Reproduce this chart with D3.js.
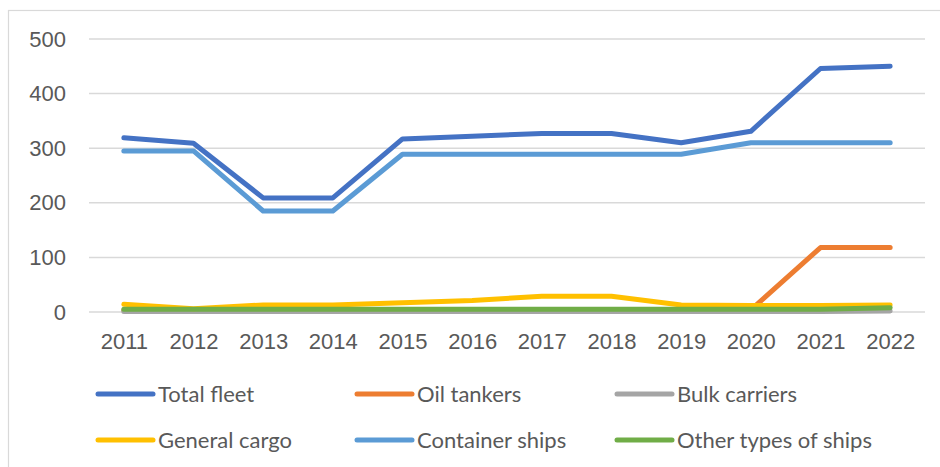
<!DOCTYPE html>
<html>
<head>
<meta charset="utf-8">
<script src="https://cdn.jsdelivr.net/npm/d3@7"></script>
<style>
body{margin:0;background:#fff;}
svg{display:block;}
</style>
</head>
<body>
<svg id="chart" width="940" height="467"></svg>
<script>
// data
const years=["2011","2012","2013","2014","2015","2016","2017","2018","2019","2020","2021","2022"];
const total_fleet=[319,309,209,209,317,322,327,327,310,331,446,450];
const oil_tankers=[3,3,3,3,3,3,3,3,3,4,118,118];
const bulk_carriers=[1,1,1,1,1,1,1,1,1,1,1,2];
const general_cargo=[14,6,13,13,17,21,29,29,13,12,12,13];
const container_ships=[295,295,185,185,289,289,289,289,289,310,310,310];
const other_ships=[5,5,5,5,5,5,5,5,5,5,5,8];
const y_ticks=[0,100,200,300,400,500];

const series=[
    {name:"Total fleet",values:total_fleet,color:"#4472C4"},
    {name:"Oil tankers",values:oil_tankers,color:"#ED7D31"},
    {name:"Bulk carriers",values:bulk_carriers,color:"#A5A5A5"},
    {name:"General cargo",values:general_cargo,color:"#FFC000"},
    {name:"Container ships",values:container_ships,color:"#5B9BD5"},
    {name:"Other types of ships",values:other_ships,color:"#70AD47"}
];

const svg=d3.select("#chart");
const text_color="#595959";
const grid_color="#d9d9d9";

// chart frame
svg.append("rect")
    .attr("x",8.5).attr("y",10.5)
    .attr("width",940).attr("height",470)
    .attr("fill","none")
    .attr("stroke",grid_color)
    .attr("stroke-width",1.2);

const x=d3.scalePoint().domain(years).range([89,925]).padding(0.5);
const y=d3.scaleLinear().domain([0,500]).range([312,39]);

// gridlines
svg.append("g")
    .selectAll("line")
    .data(y_ticks)
    .join("line")
    .attr("x1",89).attr("x2",925)
    .attr("y1",d=>y(d)).attr("y2",d=>y(d))
    .attr("stroke",grid_color)
    .attr("stroke-width",1.5);

// y axis labels
const y_axis=svg.append("g")
    .attr("transform","translate(66,0)")
    .call(d3.axisLeft(y).tickValues(y_ticks).tickSize(0).tickPadding(0));
y_axis.select(".domain").remove();
y_axis.selectAll("text")
    .attr("font-family","'Liberation Sans', Arial, sans-serif")
    .attr("font-size",22)
    .attr("fill",text_color);

// x axis labels
const x_axis=svg.append("g")
    .attr("transform","translate(0,333)")
    .call(d3.axisBottom(x).tickSize(0).tickPadding(0));
x_axis.select(".domain").remove();
x_axis.selectAll("text")
    .attr("font-family","'Liberation Sans', Arial, sans-serif")
    .attr("font-size",22)
    .attr("fill",text_color);

// lines
const line=d3.line()
    .x((d,i)=>x(years[i]))
    .y(d=>y(d));

for (const s of series){
    svg.append("path")
        .datum(s.values)
        .attr("d",line)
        .attr("fill","none")
        .attr("stroke",s.color)
        .attr("stroke-width",5)
        .attr("stroke-linejoin","round")
        .attr("stroke-linecap","round");
}

// legend
const legend_x=[98,357,617];
const legend_y=[394,440];
series.forEach((s,i)=>{
    const lx=legend_x[i%3];
    const ly=legend_y[Math.floor(i/3)];
    const g=svg.append("g").attr("transform","translate("+lx+","+ly+")");
    g.append("line")
        .attr("x1",0).attr("x2",55)
        .attr("y1",0).attr("y2",0)
        .attr("stroke",s.color)
        .attr("stroke-width",5)
        .attr("stroke-linecap","round");
    g.append("text")
        .attr("x",60)
        .attr("y",8)
        .attr("font-family","Lato, 'Open Sans', sans-serif")
        .attr("font-size",22)
        .attr("fill",text_color)
        .text(s.name);
});
</script>
</body>
</html>
